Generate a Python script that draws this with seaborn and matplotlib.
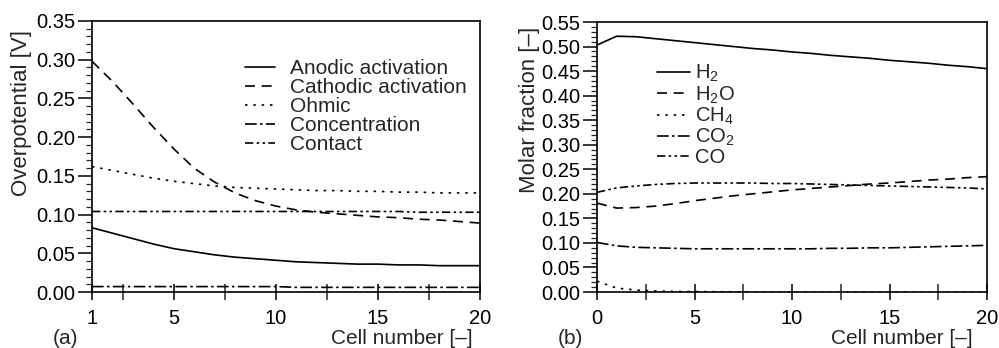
import numpy as np
import pandas as pd
import matplotlib
matplotlib.use("Agg")
import matplotlib.pyplot as plt
from matplotlib.ticker import MultipleLocator, FixedLocator
import seaborn as sns

# ---------------- data ----------------
cells_a = list(range(1, 21))
anodic = [0.083, 0.076, 0.069, 0.062, 0.056, 0.052, 0.048, 0.045, 0.043, 0.041,
          0.039, 0.038, 0.037, 0.036, 0.036, 0.035, 0.035, 0.034, 0.034, 0.034]
cathodic = [0.298, 0.272, 0.243, 0.213, 0.185, 0.160, 0.142, 0.128, 0.118, 0.111,
            0.106, 0.103, 0.101, 0.099, 0.097, 0.096, 0.094, 0.093, 0.091, 0.089]
ohmic = [0.162, 0.157, 0.152, 0.147, 0.143, 0.140, 0.137, 0.135, 0.134, 0.133,
         0.132, 0.131, 0.131, 0.130, 0.130, 0.129, 0.129, 0.128, 0.128, 0.128]
concentration = [0.007, 0.007, 0.007, 0.007, 0.007, 0.007, 0.007, 0.007, 0.007, 0.007,
                 0.006, 0.006, 0.006, 0.006, 0.006, 0.006, 0.006, 0.006, 0.006, 0.006]
contact = [0.104, 0.104, 0.104, 0.104, 0.104, 0.104, 0.104, 0.104, 0.104, 0.104,
           0.104, 0.104, 0.104, 0.104, 0.104, 0.104, 0.103, 0.103, 0.103, 0.103]
labels_a = ["Anodic activation", "Cathodic activation", "Ohmic", "Concentration", "Contact"]

cells_b = list(range(0, 21))
h2 = [0.503, 0.521, 0.520, 0.516, 0.512, 0.508, 0.504, 0.500, 0.496, 0.493, 0.489,
      0.486, 0.482, 0.479, 0.476, 0.472, 0.469, 0.466, 0.462, 0.459, 0.455]
h2o = [0.181, 0.171, 0.172, 0.175, 0.180, 0.186, 0.191, 0.196, 0.200, 0.204, 0.208,
       0.211, 0.214, 0.217, 0.220, 0.222, 0.225, 0.228, 0.230, 0.233, 0.235]
ch4 = [0.022, 0.008, 0.004, 0.002, 0.001, 0.001, 0.0005, 0.0005, 0.0, 0.0, 0.0,
       0.0, 0.0, 0.0, 0.0, 0.0, 0.0, 0.0, 0.0, 0.0, 0.0]
co2 = [0.101, 0.094, 0.091, 0.090, 0.089, 0.088, 0.088, 0.088, 0.088, 0.088, 0.088,
       0.088, 0.089, 0.089, 0.090, 0.090, 0.091, 0.092, 0.093, 0.094, 0.095]
co = [0.203, 0.212, 0.216, 0.219, 0.221, 0.222, 0.222, 0.222, 0.222, 0.221, 0.221,
      0.220, 0.219, 0.218, 0.217, 0.216, 0.215, 0.214, 0.213, 0.212, 0.210]
labels_b = ["H$_2$", "H$_2$O", "CH$_4$", "CO$_2$", "CO"]

# ---------------- style ----------------
sns.set_style("ticks")
plt.rcParams['font.family'] = ['Liberation Sans', 'DejaVu Sans']
plt.rcParams['mathtext.fontset'] = 'custom'
plt.rcParams['mathtext.rm'] = 'Liberation Sans'
plt.rcParams['mathtext.it'] = 'Liberation Sans'

dashes = [(None, None), (6, 4), (1.5, 3.5), (7, 2, 1.5, 2), (5, 2, 1.5, 2, 1.5, 2)]

fig = plt.figure(figsize=(9.99, 3.48), dpi=100)
ax1 = fig.add_axes([92/999, 1-292/348, (480-92)/999, (292-21)/348])
ax2 = fig.add_axes([597/999, 1-292/348, (987-597)/999, (292-22)/348])

def draw(ax, x, series, labels):
    for ys, lab, d in zip(series, labels, dashes):
        df = pd.DataFrame({"x": x, "y": ys})
        sns.lineplot(data=df, x="x", y="y", ax=ax, color="black",
                     linewidth=1.2, label=lab)
        ln = ax.lines[-1]
        if d[0] is None:
            ln.set_linestyle("-")
        else:
            ln.set_dashes(d)

draw(ax1, cells_a, [anodic, cathodic, ohmic, concentration, contact], labels_a)
draw(ax2, cells_b, [h2, h2o, ch4, co2, co], labels_b)

for ax in (ax1, ax2):
    for sp in ax.spines.values():
        sp.set_visible(True)
        sp.set_color("black")
        sp.set_linewidth(1.2)
    ax.set_xlabel("")
    ax.set_ylabel("")
    ax.tick_params(axis='y', which='major', direction='out', length=10, width=1.1,
                   labelsize=14.5, pad=2, colors='black')
    ax.tick_params(axis='y', which='minor', direction='out', length=4, width=0.9)
    ax.tick_params(axis='x', which='major', direction='inout', length=12, width=1.1,
                   labelsize=14.5, pad=6, colors='black')
    ax.tick_params(axis='x', which='minor', direction='inout', length=12, width=1.1)
    ax.yaxis.set_minor_locator(MultipleLocator(0.01))

ax1.set_xlim(1, 20)
ax1.set_ylim(0, 0.35)
ax1.xaxis.set_major_locator(FixedLocator([1, 5, 10, 15, 20]))
ax1.xaxis.set_minor_locator(FixedLocator([2.5, 7.5, 12.5, 17.5]))
ax1.yaxis.set_major_locator(MultipleLocator(0.05))
ax1.set_yticklabels([f"{v:.2f}" for v in ax1.get_yticks()])

ax2.set_xlim(0, 20)
ax2.set_ylim(0, 0.55)
ax2.xaxis.set_major_locator(FixedLocator([0, 5, 10, 15, 20]))
ax2.xaxis.set_minor_locator(FixedLocator([2.5, 7.5, 12.5, 17.5]))
ax2.yaxis.set_major_locator(MultipleLocator(0.05))
ax2.set_yticklabels([f"{v:.2f}" for v in ax2.get_yticks()])

leg1 = ax1.legend(loc='upper left', bbox_to_anchor=((245-92)/388, (292-59)/271),
                  frameon=False, fontsize=15, handlelength=1.45, handletextpad=0.7,
                  labelspacing=0.0, borderpad=0, borderaxespad=0)
leg2 = ax2.legend(loc='upper left', bbox_to_anchor=((657-597)/390, (292-63)/270),
                  frameon=False, fontsize=14.5, handlelength=1.65, handletextpad=0.25,
                  labelspacing=0.0, borderpad=0, borderaxespad=0)
for lg in (leg1, leg2):
    for h in lg.get_lines():
        h.set_linewidth(1.2)

fig.text(22/999, 1-113/348, "Overpotential [V]", rotation=90, ha='center', va='center', fontsize=16)
fig.text(529/999, 1-110/348, "Molar fraction [–]", rotation=90, ha='center', va='center', fontsize=16)
fig.text(473/999, 1-338/348, "Cell number [–]", ha='right', va='center', fontsize=15)
fig.text(973/999, 1-338/348, "Cell number [–]", ha='right', va='center', fontsize=15)
fig.text(66/999, 1-338/348, "(a)", ha='center', va='center', fontsize=15)
fig.text(570/999, 1-338/348, "(b)", ha='center', va='center', fontsize=15)

fig.savefig("out.png", dpi=100)
